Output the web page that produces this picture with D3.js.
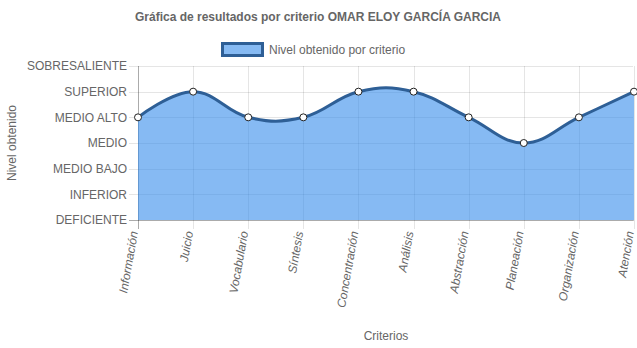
<!DOCTYPE html>
<html>
<head>
<meta charset="utf-8">
<script src="https://cdn.jsdelivr.net/npm/d3@7"></script>
<style>
  html, body { margin: 0; padding: 0; background: #fff; }
  svg { display: block; font-family: "Liberation Sans", Arial, Helvetica, sans-serif; }
</style>
</head>
<body>
<svg id="chart" width="637" height="348"></svg>
<script>
// Level scale (lowest to highest) and results per criterion
const levels = ["DEFICIENTE", "INFERIOR", "MEDIO BAJO", "MEDIO", "MEDIO ALTO", "SUPERIOR", "SOBRESALIENTE"];
const criterios = ["Información", "Juicio", "Vocabulario", "Síntesis", "Concentración",
                   "Análisis", "Abstracción", "Planeación", "Organización", "Atención"];
const nivel = ["MEDIO ALTO", "SUPERIOR", "MEDIO ALTO", "MEDIO ALTO", "SUPERIOR",
               "SUPERIOR", "MEDIO ALTO", "MEDIO", "MEDIO ALTO", "SUPERIOR"];

const titleText = "Gráfica de resultados por criterio OMAR ELOY GARCÍA GARCIA";
const legendText = "Nivel obtenido por criterio";
const yTitle = "Nivel obtenido";
const xTitle = "Criterios";

const svg = d3.select("#chart");
const margin = { left: 138, right: 3, top: 66, bottom: 128 };
const W = 637, H = 348;

const x = d3.scalePoint().domain(criterios).range([margin.left, W - margin.right]);
const y = d3.scaleLinear().domain([0, levels.length - 1]).range([H - margin.bottom, margin.top]);

const textColor = "#666";
const gridColor = "rgba(0,0,0,0.1)";
const lineColor = "#2e5f96";
const fillColor = "rgba(54,140,235,0.6)";

// Title
svg.append("text")
  .attr("x", 318).attr("y", 21)
  .attr("text-anchor", "middle")
  .attr("font-size", 12).attr("font-weight", "bold")
  .attr("fill", textColor)
  .text(titleText);

// Legend
const lg = svg.append("g");
lg.append("rect").attr("x", 222.5).attr("y", 43.5).attr("width", 40).attr("height", 12)
  .attr("fill", fillColor).attr("stroke", lineColor).attr("stroke-width", 3);
lg.append("text").attr("x", 269).attr("y", 54)
  .attr("font-size", 12).attr("fill", textColor).text(legendText);

// Horizontal gridlines + y tick marks
const yAxis = d3.axisLeft(y)
  .tickValues(d3.range(levels.length))
  .tickFormat(i => levels[i])
  .tickSize(-(W - margin.right - margin.left + 8))
  .tickPadding(2);
const yg = svg.append("g")
  .attr("transform", `translate(${margin.left - 9},0)`)
  .call(yAxis);
yg.select(".domain").remove();
yg.selectAll(".tick line").attr("stroke", gridColor).attr("shape-rendering", "crispEdges");
yg.selectAll(".tick text").attr("font-size", 12).attr("fill", textColor)
  .attr("font-family", "Liberation Sans, Arial, sans-serif");

// Vertical gridlines + x tick marks
const xAxis = d3.axisBottom(x)
  .tickSize(-(H - margin.bottom - margin.top + 9))
  .tickFormat("");
const xg = svg.append("g")
  .attr("transform", `translate(0,${H - margin.bottom + 9})`)
  .call(xAxis);
xg.select(".domain").remove();
xg.selectAll(".tick line").attr("stroke", gridColor).attr("shape-rendering", "crispEdges");

// Axis border lines
svg.append("line").attr("x1", margin.left).attr("x2", margin.left)
  .attr("y1", margin.top).attr("y2", H - margin.bottom + 9)
  .attr("stroke", "rgba(0,0,0,0.25)").attr("shape-rendering", "crispEdges");
svg.append("line").attr("x1", margin.left - 9).attr("x2", W - margin.right)
  .attr("y1", H - margin.bottom).attr("y2", H - margin.bottom)
  .attr("stroke", "rgba(0,0,0,0.25)").attr("shape-rendering", "crispEdges");

// Rotated category labels
criterios.forEach(c => {
  svg.append("text")
    .attr("transform", `translate(${x(c)},${H - margin.bottom + 12}) rotate(-80)`)
    .attr("text-anchor", "end")
    .attr("font-size", 12).attr("font-style", "italic")
    .attr("fill", textColor)
    .text(c);
});

// Axis titles
svg.append("text")
  .attr("transform", `translate(16,${(margin.top + H - margin.bottom) / 2}) rotate(-90)`)
  .attr("text-anchor", "middle").attr("font-size", 12).attr("fill", textColor)
  .text(yTitle);
svg.append("text")
  .attr("x", (margin.left + W - margin.right) / 2).attr("y", 340)
  .attr("text-anchor", "middle").attr("font-size", 12).attr("fill", textColor)
  .text(xTitle);

// Data series
const data = criterios.map((c, i) => ({ c, v: levels.indexOf(nivel[i]) }));
const curve = d3.curveCardinal.tension(-0.2);

svg.append("path").datum(data)
  .attr("d", d3.area().x(d => x(d.c)).y0(y(0)).y1(d => y(d.v)).curve(curve))
  .attr("fill", fillColor);

svg.append("path").datum(data)
  .attr("d", d3.line().x(d => x(d.c)).y(d => y(d.v)).curve(curve))
  .attr("fill", "none").attr("stroke", lineColor).attr("stroke-width", 3);

svg.selectAll(".pt").data(data).enter().append("circle")
  .attr("cx", d => x(d.c)).attr("cy", d => y(d.v)).attr("r", 3.5)
  .attr("fill", "#fff").attr("stroke", "#222").attr("stroke-width", 1);
</script>
</body>
</html>
